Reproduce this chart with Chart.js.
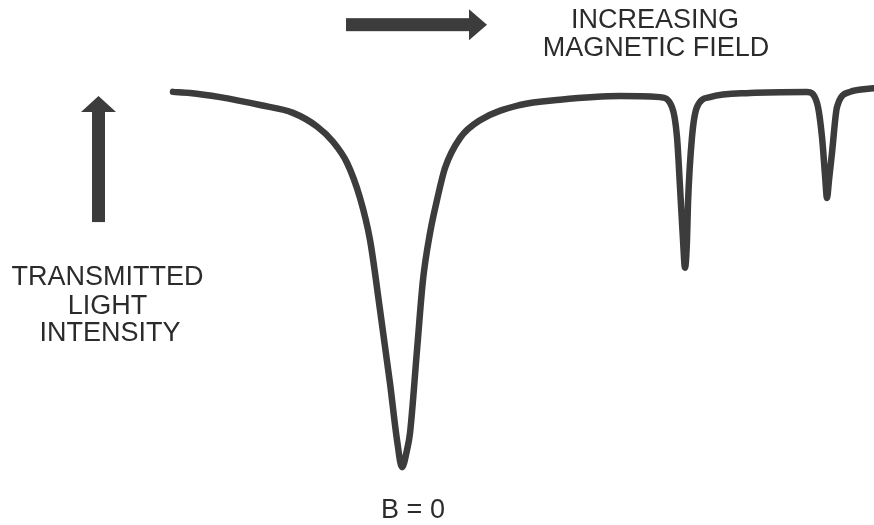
<!DOCTYPE html>
<html>
<head>
<meta charset="utf-8">
<script src="https://cdn.jsdelivr.net/npm/chart.js@4/dist/chart.umd.min.js"></script>
<style>
  html, body { margin: 0; padding: 0; background: #fff; }
  #wrap { width: 874px; height: 525px; position: relative; }
</style>
</head>
<body>
<div id="wrap"><canvas id="spectrum"></canvas></div>
<script>
// magnetic field (arbitrary units, B = 0 at the main dip)
const fieldValues = [
  -22.9, -21.2, -18.2, -14.2, -10.9, -8.5, -6.9, -5.5, -4.2, -3.2, -2.2, -1.2, -0.5, 0,
  0.5, 0.8, 1.5, 2.1, 2.8, 3.5, 4.3, 5.8, 7.8, 11.8, 15.8, 21.8, 25.8,
  27.0, 27.5, 27.8, 28.1, 28.3, 28.5, 28.6, 29.0, 29.5, 30.8, 34.8, 40.5,
  41.5, 42.0, 42.3, 42.5, 42.7, 43.0, 43.5, 44.8, 47.2
];
// transmitted light intensity (arbitrary units)
const intensityValues = [
  82.5, 82.3, 81.5, 80.0, 78.5, 75.9, 73.0, 69.0, 62.3, 54.3, 41.0, 27.0, 16.2, 11.0,
  14.3, 17.5, 33.3, 46.7, 55.6, 61.9, 68.0, 73.7, 77.1, 80.0, 81.0, 81.7, 81.5,
  79.6, 73.9, 64.4, 54.3, 49.0, 54.3, 61.3, 73.9, 79.6, 81.5, 82.3, 82.5,
  80.4, 73.9, 66.7, 62.3, 65.7, 70.9, 79.6, 82.5, 83.2
];

// labels, placed in the same field / intensity units
const labelTexts = ['INCREASING', 'MAGNETIC FIELD', 'TRANSMITTED', 'LIGHT', 'INTENSITY', 'B = 0'];
const labelField = [25.3, 25.4, -29.45, -29.45, -29.2, 1.1];
const labelIntensity = [96.0, 90.7, 47.2, 41.7, 36.4, 2.7];

const ink = '#3c3c3c';

const decorations = {
  id: 'decorations',
  afterDatasetsDraw(chart) {
    const ctx = chart.ctx;
    const xs = chart.scales.x, ys = chart.scales.y;
    ctx.save();
    ctx.fillStyle = ink;

    // horizontal arrow (increasing field)
    let x0 = xs.getPixelForValue(-5.6), x1 = xs.getPixelForValue(8.5);
    let yc = ys.getPixelForValue(95.3);
    ctx.fillRect(x0, yc - 6.5, (x1 - 17) - x0, 13);
    ctx.beginPath();
    ctx.moveTo(x1 - 18, yc - 15.5);
    ctx.lineTo(x1, yc);
    ctx.lineTo(x1 - 18, yc + 15.5);
    ctx.closePath();
    ctx.fill();

    // vertical arrow (intensity)
    let xc = xs.getPixelForValue(-30.35);
    let yb = ys.getPixelForValue(57.7), yt = ys.getPixelForValue(81.7);
    ctx.fillRect(xc - 6.5, yt + 15, 13, yb - (yt + 15));
    ctx.beginPath();
    ctx.moveTo(xc - 17.5, yt + 16);
    ctx.lineTo(xc, yt);
    ctx.lineTo(xc + 17.5, yt + 16);
    ctx.closePath();
    ctx.fill();

    // text
    ctx.fillStyle = '#2b2b2b';
    ctx.font = '27px "Liberation Sans", Arial, sans-serif';
    ctx.textAlign = 'center';
    ctx.textBaseline = 'middle';
    labelTexts.forEach((t, i) => {
      ctx.fillText(t, xs.getPixelForValue(labelField[i]), ys.getPixelForValue(labelIntensity[i]));
    });
    ctx.restore();
  }
};

new Chart(document.getElementById('spectrum'), {
  type: 'line',
  data: {
    datasets: [{
      data: fieldValues.map((f, i) => ({ x: f, y: intensityValues[i] })),
      borderColor: ink,
      borderWidth: 6.5,
      pointRadius: 0,
      cubicInterpolationMode: 'monotone',
      borderCapStyle: 'round',
      borderJoinStyle: 'round',
      fill: false
    }]
  },
  options: {
    responsive: true,
    maintainAspectRatio: false,
    animation: false,
    layout: { padding: 0 },
    plugins: { legend: { display: false }, tooltip: { enabled: false } },
    scales: {
      x: { type: 'linear', min: -40.2, max: 47.2, display: false },
      y: { min: 0, max: 100, display: false }
    }
  },
  plugins: [decorations]
});
</script>
</body>
</html>
